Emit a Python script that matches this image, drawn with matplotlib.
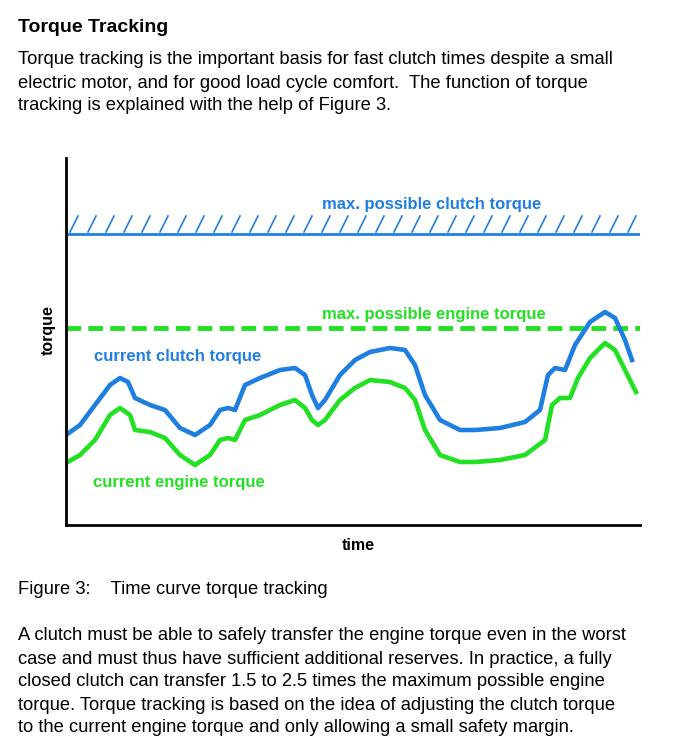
import matplotlib
matplotlib.use("Agg")
import matplotlib.pyplot as plt

plt.rcParams["font.family"] = "Liberation Sans"

BLUE = "#1f7fe0"
GREEN = "#22e022"

# curve values (x: time in px, y: torque in px from top)
time_pts = [66, 80, 95, 110, 120, 128, 135, 150, 165, 180, 195, 210, 220, 228, 235, 245,
            260, 280, 295, 305, 312, 318, 325, 340, 355, 370, 390, 405, 415, 425, 440,
            460, 475, 500, 525, 540, 548, 555, 565, 575, 590, 605, 615, 625, 632]
clutch = [435, 425, 405, 385, 378, 382, 398, 405, 410, 428, 435, 425, 410, 408, 410, 385,
          378, 370, 368, 375, 395, 408, 400, 375, 360, 352, 348, 350, 365, 395, 420,
          430, 430, 428, 422, 410, 375, 368, 370, 345, 322, 312, 318, 340, 360]
engine_time = [66, 80, 95, 110, 120, 130, 135, 150, 165, 180, 195, 210, 220, 228, 235, 245,
               260, 280, 295, 305, 312, 318, 325, 340, 355, 370, 390, 405, 415, 425, 440,
               460, 475, 500, 525, 545, 552, 560, 570, 578, 590, 605, 615, 625, 636]
engine = [463, 455, 440, 415, 408, 415, 430, 432, 438, 455, 465, 455, 440, 438, 440, 420,
          415, 405, 400, 408, 420, 425, 420, 400, 388, 380, 382, 388, 400, 430, 455,
          462, 462, 460, 455, 440, 405, 398, 398, 378, 358, 343, 350, 370, 392]
max_clutch = 234
max_engine = 328
hatch_x = list(range(70, 640, 18))

fig = plt.figure(figsize=(6.85, 7.41), dpi=100)
W, H = 685, 741
ax = fig.add_axes([66 / W, 1 - 525 / H, (640 - 66) / W, (525 - 158) / H])
ax.set_xlim(66, 640)
ax.set_ylim(525, 158)
for s in ["top", "right"]:
    ax.spines[s].set_visible(False)
for s in ["left", "bottom"]:
    ax.spines[s].set_linewidth(2)
ax.set_xticks([])
ax.set_yticks([])

ax.axhline(max_clutch, color=BLUE, lw=2)
for hx in hatch_x:
    ax.plot([hx, hx + 8], [max_clutch - 2, max_clutch - 18], color=BLUE, lw=1.2)
ax.axhline(max_engine, color=GREEN, lw=3.5, dashes=(3, 1.5))
ax.plot(time_pts, clutch, color=BLUE, lw=3.3, solid_joinstyle="round")
ax.plot(engine_time, engine, color=GREEN, lw=3.3, solid_joinstyle="round")

lab = dict(fontsize=12, fontweight="bold", va="center")
ax.text(322, 204, "max. possible clutch torque", color=BLUE, **lab)
ax.text(322, 315, "max. possible engine torque", color=GREEN, **lab)
ax.text(94, 356, "current clutch torque", color=BLUE, **lab)
ax.text(93, 482, "current engine torque", color=GREEN, **lab)

fig.text(358 / W, 1 - 545 / H, "time", ha="center", va="center", fontsize=11.5, fontweight="bold")
fig.text(48 / W, 1 - 330 / H, "torque", ha="center", va="center", fontsize=11.5,
         fontweight="bold", rotation=90)

fig.text(18 / W, 1 - 27 / H, "Torque Tracking", fontsize=14, fontweight="bold", va="center")
body = dict(fontsize=13.2, va="center")
para1 = [
    "Torque tracking is the important basis for fast clutch times despite a small",
    "electric motor, and for good load cycle comfort.  The function of torque",
    "tracking is explained with the help of Figure 3.",
]
for i, line in enumerate(para1):
    fig.text(18 / W, 1 - (60 + 23 * i) / H, line, **body)
fig.text(18 / W, 1 - 590 / H, "Figure 3:    Time curve torque tracking", **body)
para2 = [
    "A clutch must be able to safely transfer the engine torque even in the worst",
    "case and must thus have sufficient additional reserves. In practice, a fully",
    "closed clutch can transfer 1.5 to 2.5 times the maximum possible engine",
    "torque. Torque tracking is based on the idea of adjusting the clutch torque",
    "to the current engine torque and only allowing a small safety margin.",
]
for i, line in enumerate(para2):
    fig.text(18 / W, 1 - (636 + 23 * i) / H, line, **body)

fig.savefig("out.png", dpi=100)
